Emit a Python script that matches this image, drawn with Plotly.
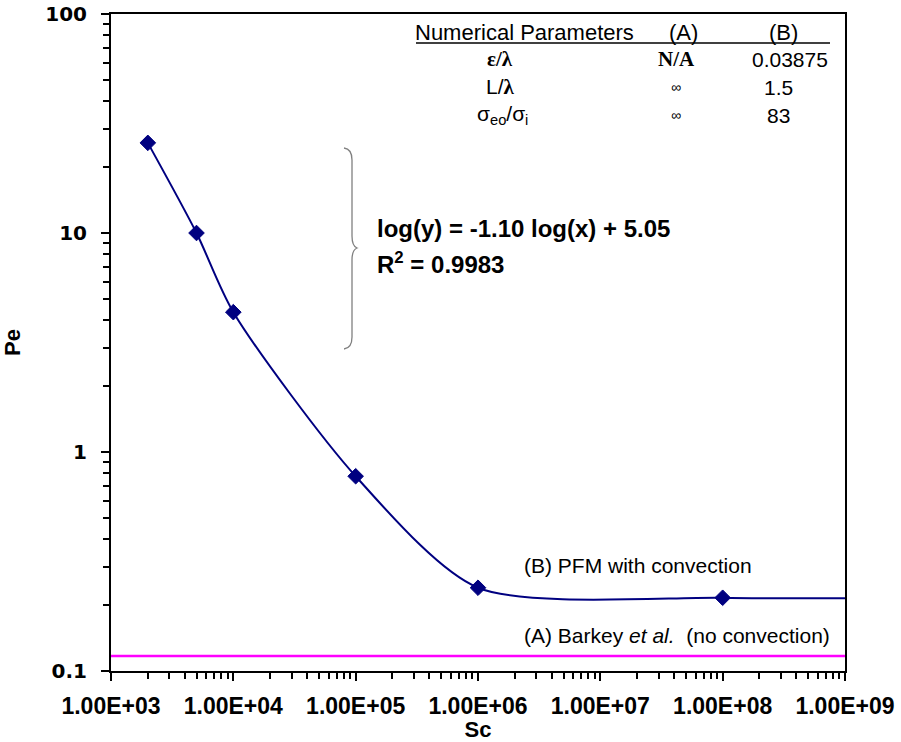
import plotly.graph_objects as go

# ---- data ----
sc_values = [2e3, 5e3, 1e4, 1e5, 1e6, 1e8, 1e9]
pe_values = [25.8, 10.0, 4.35, 0.775, 0.240, 0.216, 0.215]
marker_sizes = [12, 12, 12, 12, 12, 12, 0]
barkey_sc = [1e3, 1e9]
barkey_pe = [0.117, 0.117]
x_tickvals = [1e3, 1e4, 1e5, 1e6, 1e7, 1e8, 1e9]
x_ticktext = ["1.00E+03", "1.00E+04", "1.00E+05", "1.00E+06", "1.00E+07", "1.00E+08", "1.00E+09"]
y_tickvals = [0.1, 1, 10, 100]
y_ticktext = ["0.1", "1", "10", "100"]

W, H = 901, 742
L, R, T, B = 111, 56, 14, 71
PW, PH = W - L - R, H - T - B

def px(x):
    return (x - L) / PW

def py(y):
    return (H - B - y) / PH

NAVY = "#000080"
ARIAL = "Liberation Sans, Arial, sans-serif"

fig = go.Figure()
fig.add_trace(go.Scatter(
    x=barkey_sc, y=barkey_pe, mode="lines",
    line=dict(color="#FF00FF", width=2.5), showlegend=False, hoverinfo="skip"))
fig.add_trace(go.Scatter(
    x=sc_values, y=pe_values, mode="lines+markers",
    line=dict(color=NAVY, width=2, shape="spline", smoothing=0.75),
    marker=dict(symbol="diamond", size=marker_sizes, color=NAVY, opacity=1,
                line=dict(color=NAVY, width=1)),
    showlegend=False))

fig.update_xaxes(
    type="log", range=[3, 9], tickvals=x_tickvals, ticktext=x_ticktext,
    ticks="outside", ticklen=8, tickwidth=2, tickcolor="black",
    minor=dict(ticks="outside", ticklen=6, tickwidth=2, tickcolor="black", dtick="D1"),
    showline=True, linecolor="black", linewidth=2, mirror=True,
    showgrid=False, zeroline=False, automargin=False,
    tickfont=dict(family=ARIAL, size=23, color="black", weight="bold"),
    ticklabelstandoff=5,
    title=dict(text="<b>Sc</b>", font=dict(family=ARIAL, size=22, color="black"), standoff=2))
fig.update_yaxes(
    type="log", range=[-1, 2], tickvals=y_tickvals, ticktext=y_ticktext,
    ticks="outside", ticklen=8, tickwidth=2, tickcolor="black",
    minor=dict(ticks="outside", ticklen=6, tickwidth=2, tickcolor="black", dtick="D1"),
    showline=True, linecolor="black", linewidth=2, mirror=True,
    showgrid=False, zeroline=False, automargin=False,
    tickfont=dict(family="DejaVu Sans", size=20, color="black", weight="bold"),
    ticklabelstandoff=10,
    title=dict(text="<b>Pe</b>", font=dict(family=ARIAL, size=22, color="black"), standoff=20))

ann = []
def add(text, x, y, size=21, family=ARIAL, xanchor="center"):
    ann.append(dict(text=text, x=px(x), y=py(y), xref="paper", yref="paper",
                    showarrow=False, xanchor=xanchor, yanchor="middle",
                    font=dict(family=family, size=size, color="black")))

# parameter table
add("Numerical Parameters", 524, 32, size=22)
add("(A)", 683, 32, size=22)
add("(B)", 783, 32, size=22)
SERIF = "Liberation Serif, Times New Roman, serif"
add("<b>ε/λ</b>", 500, 59, family=SERIF)
add("<b>N/A</b>", 676, 59, family=SERIF)
add("0.03875", 790, 59)
add("L/<b><span style='font-family:Liberation Serif'>λ</span></b>", 500, 87)
add("∞", 676, 87, size=14)
add("1.5", 778, 87)
add("σ<sub>eo</sub>/σ<sub>i</sub>", 502, 115)
add("∞", 676, 115, size=14)
add("83", 778, 115)

# fit equation
add("<b>log(y) = -1.10 log(x) + 5.05</b>", 375, 228, size=24, xanchor="left")
add("<b>R<sup>2</sup> = 0.9983</b>", 375, 263, size=24, xanchor="left")

# series labels
add("(B) PFM with convection", 522, 565, xanchor="left")
add("(A) Barkey <i>et al.</i>  (no convection)", 522, 635, xanchor="left")

fig.update_layout(annotations=ann)

# underline of table header
shapes = [dict(type="line", xref="paper", yref="paper",
               x0=px(416), x1=px(830), y0=py(43), y1=py(43),
               line=dict(color="black", width=1.5))]

# curly brace
def P(x, y):
    return f"{px(x):.5f},{py(y):.5f}"
brace = (f"M {P(344,148)} Q {P(352,149)} {P(352,160)} L {P(352,236)} "
         f"Q {P(352,246)} {P(357,248)} Q {P(352,250)} {P(352,260)} "
         f"L {P(352,337)} Q {P(352,348)} {P(344,349)}")
shapes.append(dict(type="path", xref="paper", yref="paper", path=brace,
                   line=dict(color="#808080", width=1.3)))
fig.update_layout(shapes=shapes)

fig.update_layout(
    width=W, height=H, margin=dict(l=L, r=R, t=T, b=B),
    paper_bgcolor="white", plot_bgcolor="white")

fig.write_html("out.html")
